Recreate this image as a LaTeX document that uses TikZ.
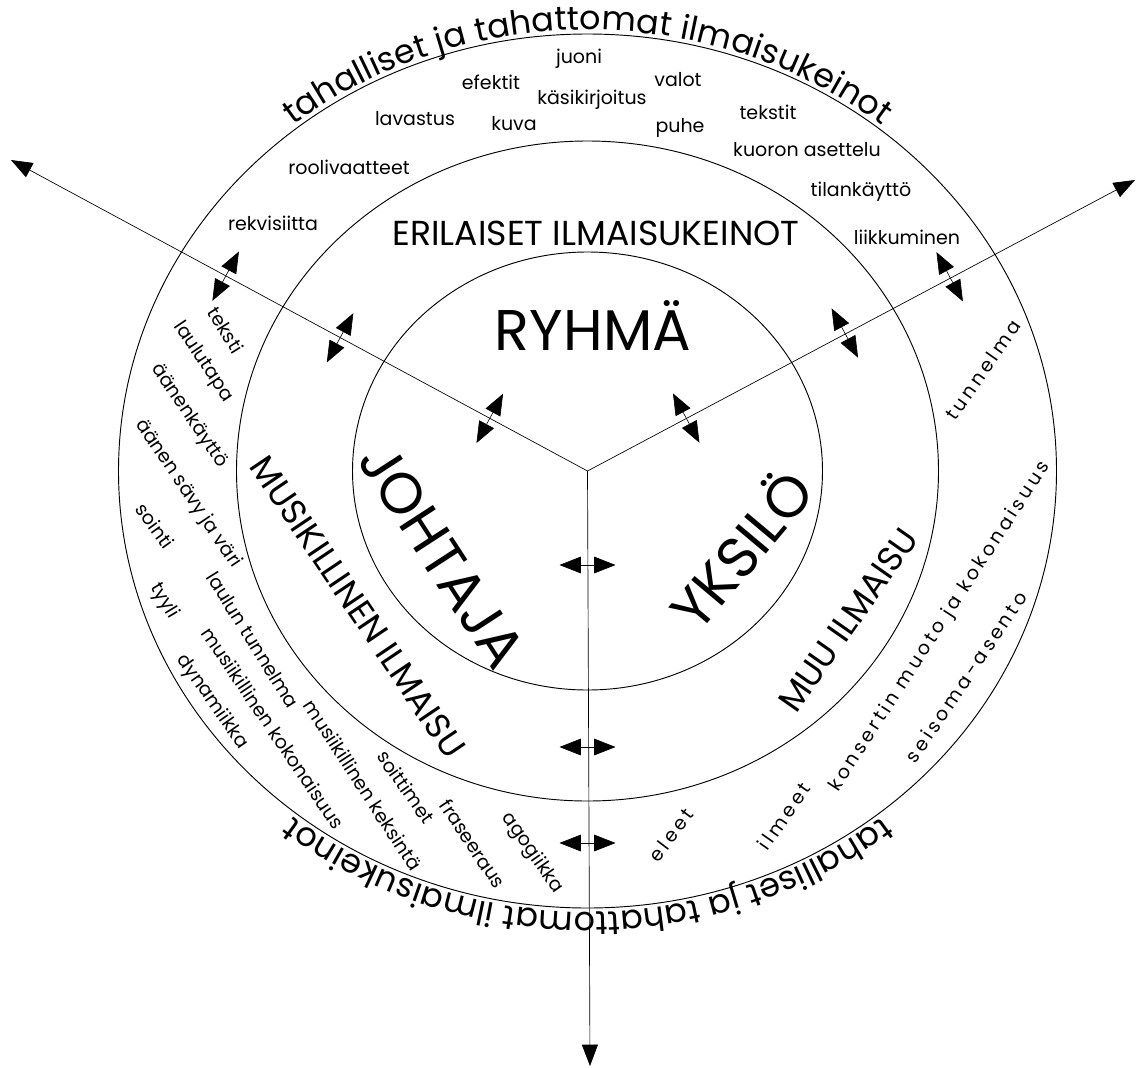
\documentclass[tikz,border=0pt]{standalone}
\usepackage{fontspec}
\setmainfont{Poppins}
\newfontfamily\spreadfont[LetterSpace=18]{Poppins}
\usetikzlibrary{arrows.meta,decorations.text}

\newcommand{\arcfont}{\fontsize{25}{26}\selectfont}

\tikzset{
  ring/.style={draw, line width=0.7pt},
  ray/.style={line width=0.5pt, -{Triangle[length=16pt, width=12pt]}},
  twohead/.style={line width=0.45pt, {Triangle[length=16pt, width=12.5pt]}-{Triangle[length=16pt, width=12.5pt]}},
  smalltxt/.style={font=\fontsize{14.25}{15}\selectfont, inner sep=0pt},
  widetxt/.style={font=\spreadfont\fontsize{14.25}{15}\selectfont, inner sep=0pt},
  midtxt/.style={font=\fontsize{26}{26}\selectfont, inner sep=0pt},
  bigtxt/.style={font=\fontsize{43}{43}\selectfont, inner sep=0pt},
  arctxt/.style={decorate, decoration={text along path, text align=center, raise=3pt,
    text={|\arcfont|tahalliset ja tahattomat ilmaisukeinot}}},
}

\begin{document}
\begin{tikzpicture}[x=0.75pt, y=0.75pt]
  \useasboundingbox (0,0) rectangle (1136,-1068);
  \coordinate (O) at (587.5,-471);
  \coordinate (tipL) at (11,-160);
  \coordinate (tipR) at (1135,-180);
  \coordinate (tipB) at (590,-1066);

  % rings
  \draw[ring] (O) ellipse[x radius=469, y radius=437];
  \draw[ring] (O) ellipse[x radius=351, y radius=330];
  \draw[ring] (O) ellipse[x radius=235, y radius=219];

  % rays
  \draw[ray] (O) -- (tipL);
  \draw[ray] (O) -- (tipR);
  \draw[ray] (O) -- (tipB);

  % two-way arrows across the rays
  \foreach \ang/\dist [count=\k] in {151.7/111, 151.7/281, 151.7/411,
                                      28.2/112, 28.2/292, 28.2/411,
                                      270/94, 270/276, 270/372}{
    \path (O) ++(\ang:\dist) coordinate (m\k) ++(\ang+90:28) coordinate (s\k);
    \path (m\k) ++(\ang-90:28) coordinate (e\k);
    \draw[twohead] (s\k) -- (e\k);
  }

  % outer text on the ring
  \path[arctxt] (O) ++(180:469 and 437) arc[start angle=180, end angle=0, x radius=469, y radius=437];
  \path[arctxt] (O) ++(0:469 and 437) arc[start angle=0, end angle=-180, x radius=469, y radius=437];

  % centre
  \node[bigtxt] (ryhma) at (593,-325) {RYHMÄ};
  \node[bigtxt, rotate=-57] (johtaja) at (442,-556) {JOHTAJA};
  \node[bigtxt, rotate=50] (yksilo) at (739,-548) {YKSILÖ};

  % middle ring
  \node[midtxt] (erilaiset) at (596,-233) {ERILAISET ILMAISUKEINOT};
  \node[midtxt, rotate=-56] (musiikki) at (358,-607) {MUSIKILLINEN ILMAISU};
  \node[midtxt, rotate=55] (muu) at (848,-620) {MUU ILMAISU};

  % outer ring, top
  \node[smalltxt] (juoni) at (579,-59) {juoni};
  \node[smalltxt] (efektit) at (491,-82) {efektit};
  \node[smalltxt] (valot) at (678,-80) {valot};
  \node[smalltxt] (kasikirj) at (592,-100) {käsikirjoitus};
  \node[smalltxt] (lavastus) at (415,-119) {lavastus};
  \node[smalltxt] (kuva) at (514,-124) {kuva};
  \node[smalltxt] (puhe) at (680,-128) {puhe};
  \node[smalltxt] (tekstit) at (768,-112) {tekstit};
  \node[smalltxt] (kuoron) at (807,-150) {kuoron asettelu};
  \node[smalltxt] (rooli) at (349,-167) {roolivaatteet};
  \node[smalltxt] (tila) at (861,-192) {tilankäyttö};
  \node[smalltxt] (rekvis) at (273,-223) {rekvisiitta};
  \node[smalltxt] (liikku) at (907,-237) {liikkuminen};

  % outer ring, left
  \node[smalltxt, rotate=-58] (teksti) at (226,-330) {teksti};
  \node[smalltxt, rotate=-56] (laulutapa) at (203,-362) {laulutapa};
  \node[smalltxt, rotate=-56] (aanenk) at (189,-416) {äänenkäyttö};
  \node[smalltxt, rotate=-56] (savy) at (188,-494) {äänen sävy ja väri};
  \node[smalltxt, rotate=-54] (sointi) at (155,-526) {sointi};
  \node[smalltxt, rotate=-59] (tyyli) at (164,-601) {tyyli};
  \node[smalltxt, rotate=-58] (tunnelmaL) at (253,-640) {laulun tunnelma};
  \node[smalltxt, rotate=-55] (dynamiikka) at (212,-702) {dynamiikka};
  \node[smalltxt, rotate=-56] (kokon) at (273,-728) {musiikillinen kokonaisuus};
  \node[smalltxt, rotate=-57] (keksinta) at (363,-785) {musiikillinen keksintä};
  \node[smalltxt, rotate=-55] (soittimet) at (406,-787) {soittimet};
  \node[smalltxt, rotate=-56] (fraseeraus) at (473,-844) {fraseeraus};
  \node[smalltxt, rotate=-55] (agogiikka) at (532,-853) {agogiikka};

  % outer ring, right
  \node[widetxt, rotate=55] (tunnelmaR) at (983,-370) {tunnelma};
  \node[widetxt, rotate=57] (konsertti) at (940,-627) {konsertin muoto ja kokonaisuus};
  \node[widetxt, rotate=56] (seisoma) at (966,-677) {seisoma-asento};
  \node[widetxt, rotate=55] (ilmeet) at (784,-816) {ilmeet};
  \node[widetxt, rotate=53] (eleet) at (671,-835) {eleet};
\end{tikzpicture}
\end{document}
